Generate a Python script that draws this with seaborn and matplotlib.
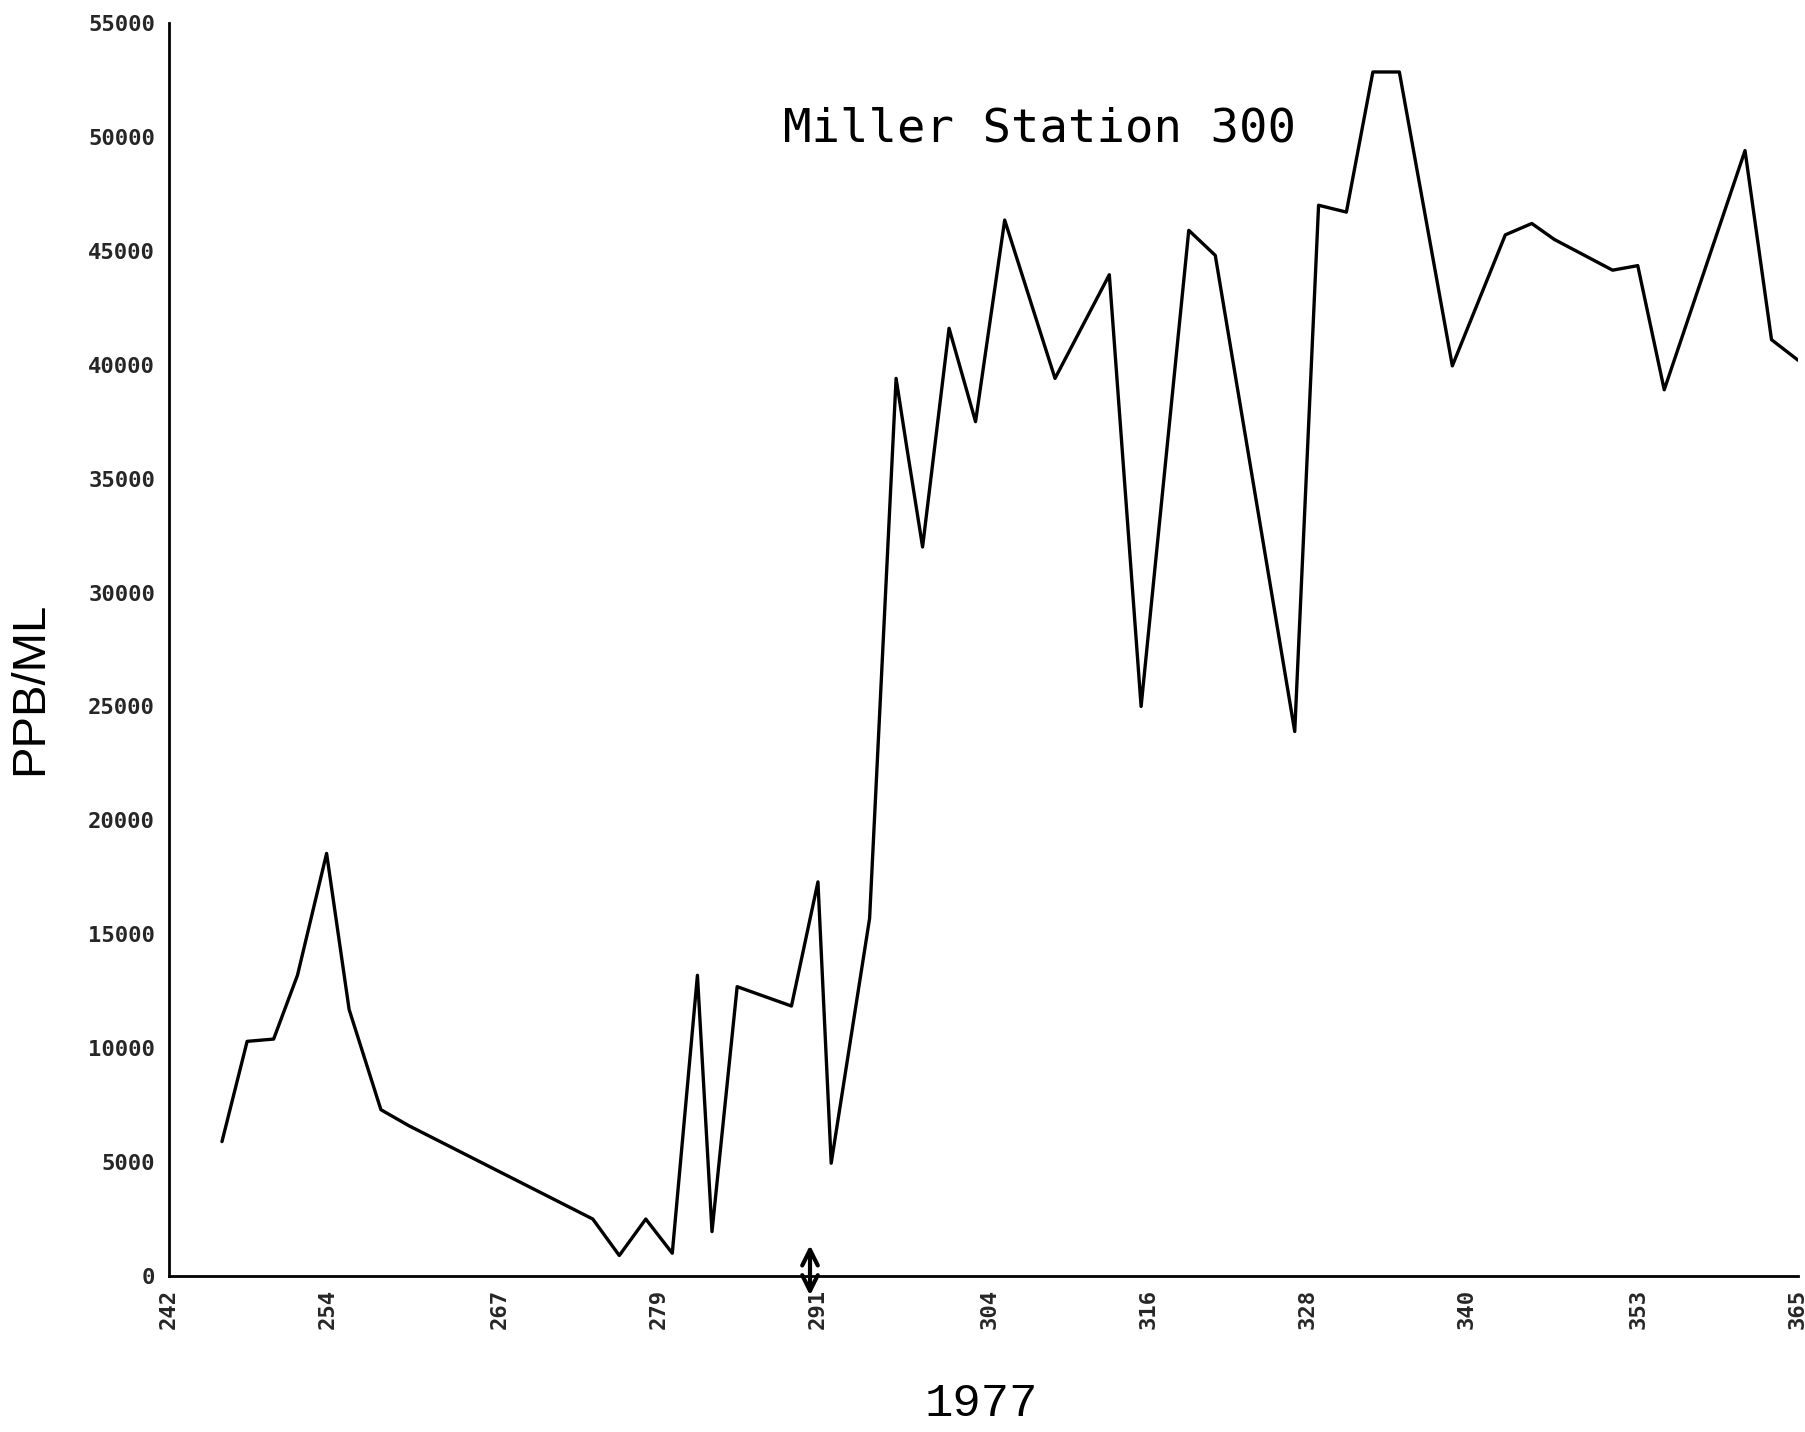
import matplotlib
matplotlib.use("Agg")
import matplotlib.pyplot as plt
import seaborn as sns
import pandas as pd

# ---- data ----
days = [246.0, 247.9, 249.9, 251.7, 253.9, 255.6, 258.0, 260.1, 274.0, 276.0,
        278.0, 280.0, 281.9, 283.0, 284.9, 289.0, 291.0, 292.0, 294.9, 296.9,
        297.7, 298.9, 300.9, 302.9, 305.1, 308.9, 313.0, 315.4, 319.0, 321.0,
        327.0, 328.8, 330.9, 332.9, 334.9, 338.9, 342.9, 344.9, 346.6, 351.0,
        352.9, 354.9, 361.0, 363.0, 365.0]
ppb = [5900, 10300, 10400, 13200, 18550, 11700, 7300, 6600, 2500, 900,
       2500, 1000, 13200, 1950, 12700, 11850, 17300, 4950, 15700, 39400,
       36400, 32000, 41600, 37500, 46350, 39400, 43950, 25000, 45900, 44800,
       23900, 47000, 46700, 52850, 52850, 39950, 45700, 46200, 45500, 44150,
       44350, 38900, 49400, 41100, 40200]

x_ticks = [242, 254, 267, 279, 291, 304, 316, 328, 340, 353, 365]
x_tick_labels = ["242", "254", "267", "279", "291", "304", "316", "328", "340", "353", "365"]
y_ticks = [0, 5000, 10000, 15000, 20000, 25000, 30000, 35000, 40000, 45000, 50000, 55000]
y_tick_labels = [str(v) for v in y_ticks]
arrow_day = 290.4
arrow_span = [-850, 1350]

title_text = "Miller Station 300"
y_label = "PPB/ML"
x_label = "1977"

# ---- plot ----
sns.set_style("white")
df = pd.DataFrame({"day": days, "ppb": ppb})

fig = plt.figure(figsize=(18.06, 14.32), dpi=100)
ax = fig.add_axes([169 / 1806, 1 - 1276 / 1432, (1798 - 169) / 1806, (1276 - 23) / 1432])

sns.lineplot(data=df, x="day", y="ppb", ax=ax, color="black", linewidth=2.4,
             estimator=None, sort=False)

ax.set_xlim(242, 365)
ax.set_ylim(0, 55000)
ax.set_xlabel("")
ax.set_ylabel("")

for s in ["top", "right"]:
    ax.spines[s].set_visible(False)
for s in ["left", "bottom"]:
    ax.spines[s].set_color("black")
    ax.spines[s].set_linewidth(2.0)

ax.set_xticks(x_ticks)
ax.set_xticklabels(x_tick_labels, rotation=90, fontfamily="DejaVu Sans Mono",
                   fontweight="bold", fontsize=16)
ax.set_yticks(y_ticks)
ax.set_yticklabels(y_tick_labels, fontfamily="DejaVu Sans Mono",
                   fontweight="bold", fontsize=16)
ax.tick_params(axis="both", direction="inout", length=14, width=2, color="black")
ax.tick_params(axis="y", pad=3)
ax.tick_params(axis="x", pad=2)

# double-headed marker arrow at the x axis
ax.annotate("", xy=(arrow_day, arrow_span[1]), xytext=(arrow_day, arrow_span[0]),
            xycoords="data", textcoords="data", annotation_clip=False,
            arrowprops=dict(arrowstyle="<->", color="black", lw=3,
                            mutation_scale=28, shrinkA=0, shrinkB=0))

fig.text(783 / 1806, 1 - 129 / 1432, title_text, ha="left", va="center",
         fontsize=34, fontfamily="DejaVu Sans Mono", color="black")
fig.text(30 / 1806, 1 - 688 / 1432, y_label, ha="center", va="center",
         rotation=90, fontsize=34, fontfamily="Liberation Sans", color="black")
fig.text(981 / 1806, 1 - 1404 / 1432, x_label, ha="center", va="center",
         fontsize=34, fontfamily="Liberation Mono", color="black")

fig.savefig("out.png", dpi=100, facecolor="white")
